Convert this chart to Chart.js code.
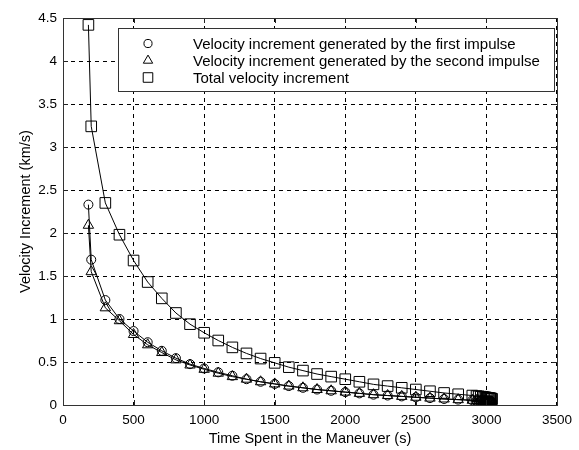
<!DOCTYPE html>
<html><head><meta charset="utf-8">
<script src="https://cdn.jsdelivr.net/npm/chart.js@4/dist/chart.umd.min.js"></script>
<style>html,body{margin:0;padding:0;background:#fff}#wrap{width:579px;height:450px}</style>
</head><body><div id="wrap"><canvas id="c" width="579" height="450"></canvas></div>
<script>
const timeSpent = [180,200,300,400,500,600,700,800,900,1000,1100,1200,1300,1400,1500,1600,1700,1800,1900,2000,2100,2200,2300,2400,2500,2600,2700,2800,2900,2930,2945,2960,2975,2985,2995,3003,3010,3016,3022,3027,3032,3036,3040];
const firstImpulse = [2.33,1.69,1.22,1.00,0.86,0.73,0.63,0.545,0.475,0.425,0.38,0.34,0.30,0.27,0.245,0.22,0.20,0.18,0.165,0.15,0.135,0.12,0.11,0.10,0.09,0.08,0.07,0.063,0.055,0.052,0.051,0.049,0.047,0.046,0.044,0.043,0.042,0.041,0.04,0.039,0.038,0.037,0.036];
const secondImpulse = [2.09,1.55,1.13,0.98,0.82,0.70,0.61,0.525,0.465,0.415,0.37,0.33,0.30,0.27,0.245,0.22,0.20,0.18,0.165,0.15,0.135,0.12,0.11,0.10,0.09,0.08,0.07,0.062,0.055,0.052,0.05,0.048,0.047,0.045,0.044,0.042,0.041,0.04,0.039,0.039,0.038,0.037,0.036];
const totalIncrement = [4.42,3.24,2.35,1.98,1.68,1.43,1.24,1.07,0.94,0.84,0.75,0.67,0.60,0.54,0.49,0.44,0.40,0.36,0.33,0.30,0.27,0.24,0.22,0.20,0.18,0.16,0.14,0.125,0.11,0.104,0.101,0.097,0.094,0.091,0.088,0.085,0.083,0.081,0.079,0.078,0.076,0.074,0.072];
const xTicks = [0,500,1000,1500,2000,2500,3000,3500];
const yTicks = [0,0.5,1,1.5,2,2.5,3,3.5,4,4.5];
const seriesLabels = ['Velocity increment generated by the first impulse','Velocity increment generated by the second impulse','Total velocity increment'];
const xTitle = 'Time Spent in the Maneuver (s)';
const yTitle = 'Velocity Increment (km/s)';

const FAMILY = '"Liberation Sans", Arial, sans-serif';
const TICK_FONT = {family:FAMILY, size:13.5};
const TITLE_FONT = {family:FAMILY, size:14.5};
const LEGEND_SIZE = 15;

function pts(ys){ return timeSpent.map((x,i)=>({x:x,y:ys[i]})); }

const insideLegend = {
  id:'insideLegend',
  afterDraw(chart){
    const ctx = chart.ctx, ca = chart.chartArea;
    const xs = chart.scales.x, ys = chart.scales.y;
    ctx.save();
    ctx.strokeStyle = '#222'; ctx.lineWidth = 1; ctx.setLineDash([]);
    xTicks.forEach(v=>{ const p = Math.round(xs.getPixelForValue(v))+0.5;
      ctx.beginPath(); ctx.moveTo(p,ca.bottom); ctx.lineTo(p,ca.bottom-5); ctx.moveTo(p,ca.top); ctx.lineTo(p,ca.top+5); ctx.stroke(); });
    yTicks.forEach(v=>{ const p = Math.round(ys.getPixelForValue(v))+0.5;
      ctx.beginPath(); ctx.moveTo(ca.left,p); ctx.lineTo(ca.left+5,p); ctx.moveTo(ca.right,p); ctx.lineTo(ca.right-5,p); ctx.stroke(); });
    ctx.strokeStyle = '#333';
    ctx.strokeRect(Math.round(ca.left)+0.5, Math.round(ca.top)+0.5, Math.round(ca.right-ca.left), Math.round(ca.bottom-ca.top));
    const bx = 118.5, by = 28.5, bw = 436, bh = 63;
    ctx.fillStyle = '#fff'; ctx.fillRect(bx,by,bw,bh);
    ctx.strokeStyle = '#333'; ctx.strokeRect(bx,by,bw,bh);
    ctx.font = LEGEND_SIZE+'px '+FAMILY; ctx.textBaseline = 'middle'; ctx.textAlign='left';
    chart.data.datasets.forEach((ds,i)=>{
      const yy = by + 15 + i*17;
      ctx.strokeStyle = '#000'; ctx.lineWidth = 1; ctx.fillStyle = 'rgba(0,0,0,0)';
      Chart.helpers.drawPoint(ctx,{pointStyle:ds.pointStyle, radius:ds.pointRadius*0.9, borderWidth:1}, 148, yy);
      ctx.fillStyle = '#000';
      ctx.fillText(ds.label, 193, yy+1);
    });
    ctx.restore();
  }
};

const common = {showLine:true, borderColor:'#000', borderWidth:1, backgroundColor:'rgba(0,0,0,0)', pointBorderColor:'#000', pointBackgroundColor:'rgba(0,0,0,0)', pointBorderWidth:1, tension:0};

new Chart(document.getElementById('c'), {
  type:'scatter',
  data:{datasets:[
    Object.assign({label:seriesLabels[0], data:pts(firstImpulse), pointStyle:'circle', pointRadius:4.5}, common),
    Object.assign({label:seriesLabels[1], data:pts(secondImpulse), pointStyle:'triangle', pointRadius:6}, common),
    Object.assign({label:seriesLabels[2], data:pts(totalIncrement), pointStyle:'rect', pointRadius:7.5}, common)
  ]},
  options:{
    responsive:false, animation:false, devicePixelRatio:1,
    layout:{padding:{top:18,right:21,bottom:0,left:0}},
    plugins:{legend:{display:false}, tooltip:{enabled:false}},
    scales:{
      x:{type:'linear', min:0, max:3500,
        afterBuildTicks(s){ s.ticks = xTicks.map(v=>({value:v})); },
        afterFit(s){ s.height = 45; },
        ticks:{callback:v=>String(v), color:'#000', font:TICK_FONT, padding:7, maxRotation:0},
        grid:{color:'#000', lineWidth:1, drawTicks:false},
        border:{display:false, dash:[4,4]},
        title:{display:true, text:xTitle, color:'#000', font:TITLE_FONT, padding:{top:0,bottom:2}}
      },
      y:{type:'linear', min:0, max:4.5,
        afterBuildTicks(s){ s.ticks = yTicks.map(v=>({value:v})); },
        afterFit(s){ s.width = 63; },
        ticks:{callback:v=>String(v), color:'#000', font:TICK_FONT, padding:6},
        grid:{color:'#000', lineWidth:1, drawTicks:false},
        border:{display:false, dash:[4,4]},
        title:{display:true, text:yTitle, color:'#000', font:TITLE_FONT, padding:{top:17,bottom:0}}
      }
    }
  },
  plugins:[insideLegend]
});
</script></body></html>
